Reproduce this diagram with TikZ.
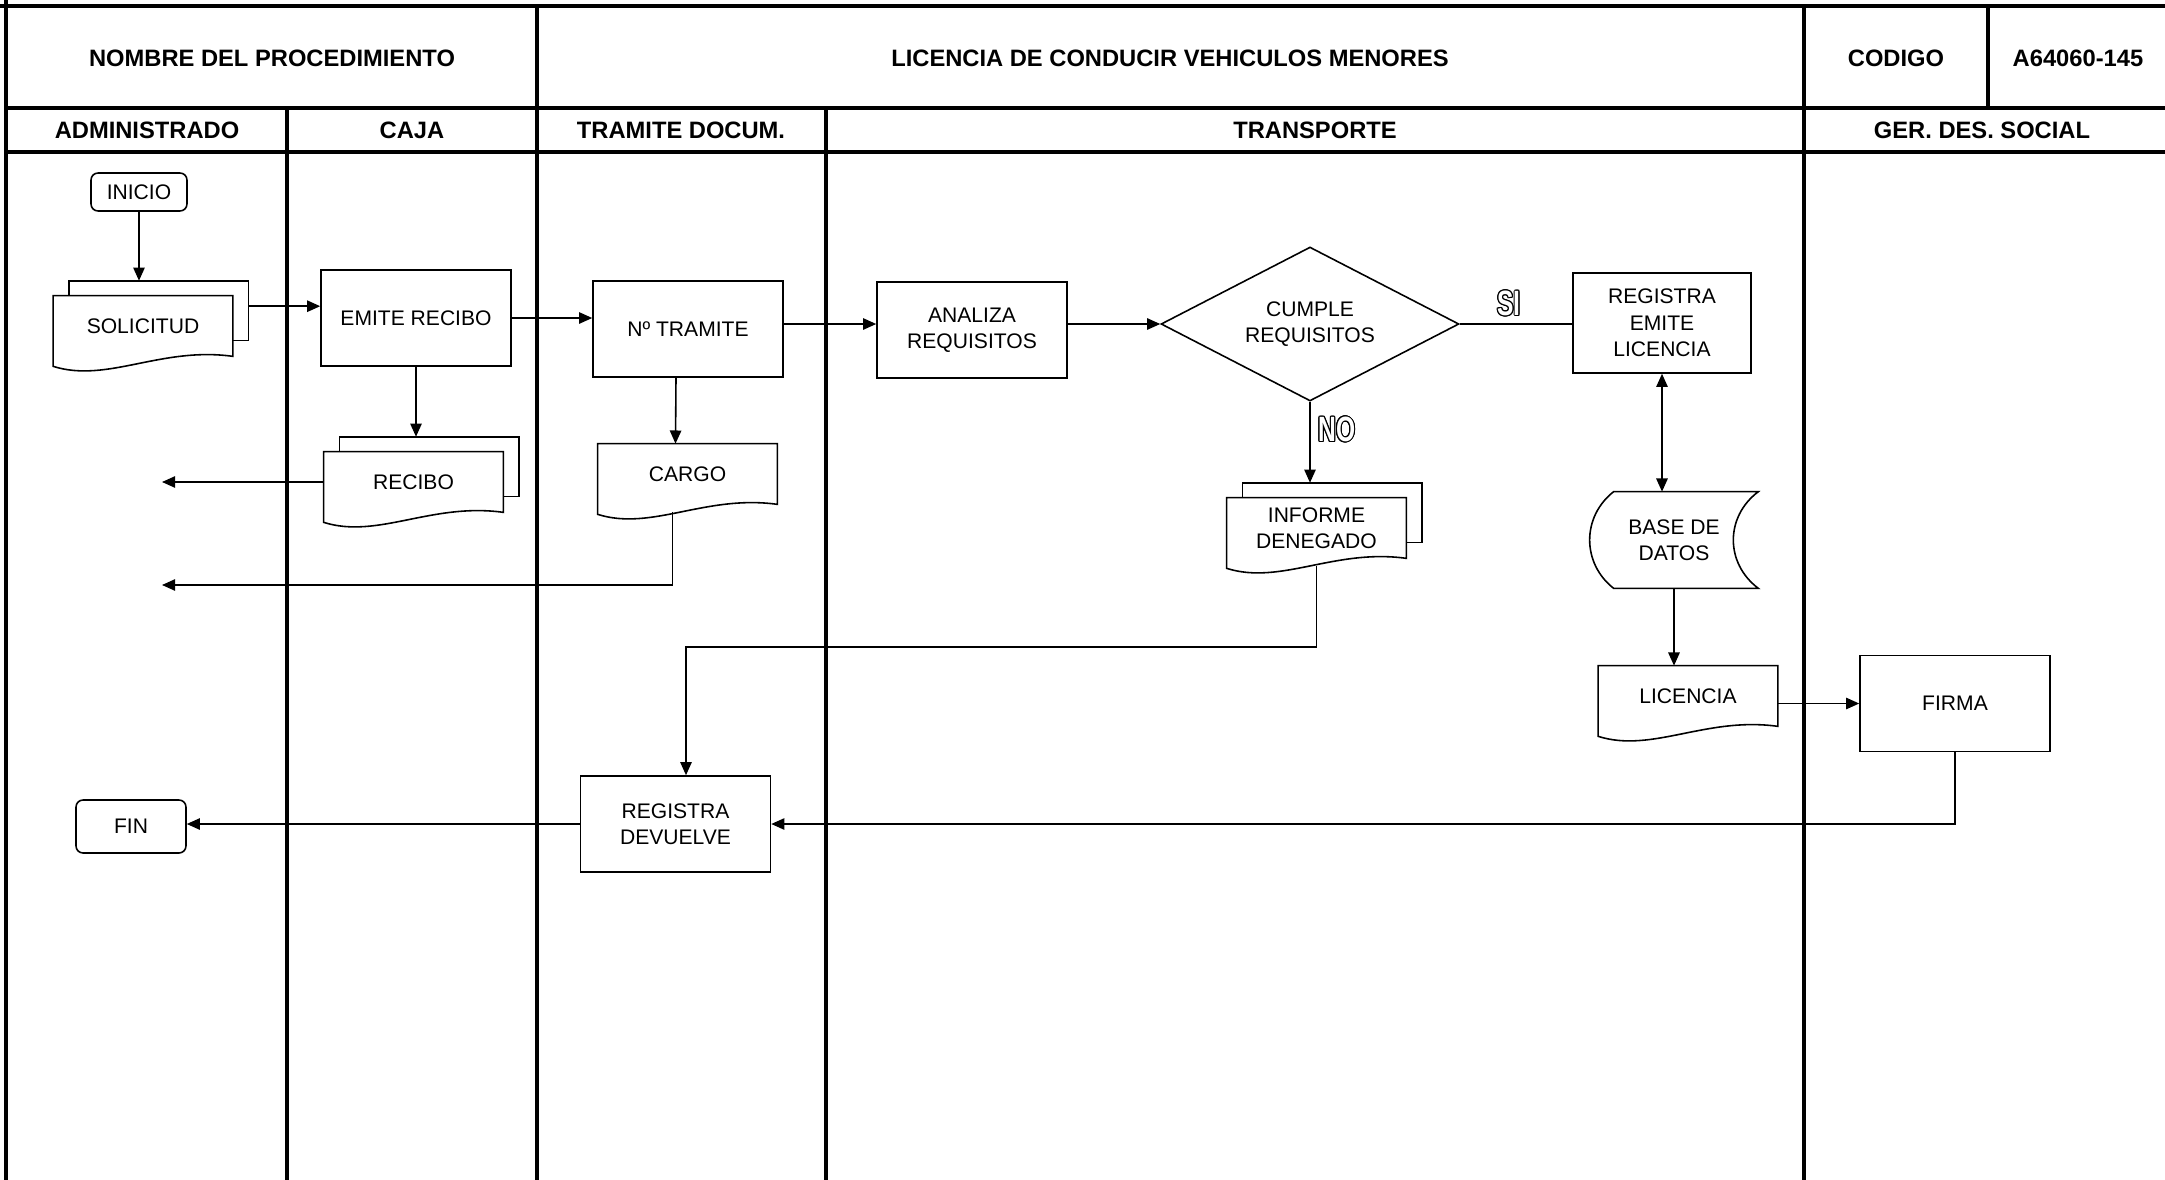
\documentclass[tikz,border=0pt]{standalone}
\usepackage{fontspec}
\setmainfont{Liberation Sans}
\usepackage{graphicx}
\usepackage{contour}
\usepackage{tikz}
\usetikzlibrary{arrows.meta,shapes.geometric,calc}
\contourlength{0.7pt}

\tikzset{
  >={Triangle[length=7.5pt,width=6.5pt]},
  txt/.style={font=\fontsize{12}{15}\selectfont, align=center},
  shapeline/.style={line width=0.9pt},
  proc/.style={txt, draw, shapeline, minimum width=3.8cm, minimum height=1.92cm, inner sep=2pt},
  term/.style={txt, draw, shapeline, rounded corners=4pt, inner sep=2pt},
  doc/.style={txt, minimum width=3.58cm, minimum height=1.2cm, inner sep=2pt},
  dec/.style={txt, diamond, draw, shapeline, aspect=2, minimum width=5.96cm, minimum height=3.08cm, inner sep=0pt},
  store/.style={txt, minimum width=3.36cm, minimum height=1.92cm, inner sep=2pt},
  flow/.style={shapeline},
  lane/.style={line width=2.6pt},
  head/.style={font=\bfseries\fontsize{13.5}{16}\selectfont},
  answer/.style={font=\bfseries\fontsize{20}{20}\selectfont},
}

% document sheet with wavy bottom, drawn round a node
\newcommand{\docframe}[1]{%
  \draw[shapeline] (#1.north west) -- (#1.north east) -- (#1.south east)
    .. controls ($(#1.south west)!0.6!(#1.south east)+(0,5.7pt)$)
    and ($(#1.south west)!0.3!(#1.south east)+(0,-15.4pt)$)
    .. ($(#1.south west)+(0,-5.7pt)$) -- cycle;}
% several sheets
\newcommand{\multidocframe}[1]{%
  \draw[shapeline] ($(#1.north west)+(9pt,0)$) -- ++(0,8.5pt)
    -- ($(#1.north east)+(9pt,8.5pt)$) -- ($(#1.north east)+(9pt,-25.5pt)$)
    -- ($(#1.north east)+(0,-25.5pt)$);
  \docframe{#1}}
% stored data
\newcommand{\storeframe}[1]{%
  \draw[shapeline] ($(#1.north west)+(0.48cm,0)$) -- (#1.north east)
    .. controls ($(#1.north east)+(-0.667cm,-0.5cm)$) and ($(#1.south east)+(-0.667cm,0.5cm)$) .. (#1.south east)
    -- ($(#1.south west)+(0.48cm,0)$)
    .. controls ($(#1.south west)+(-0.16cm,0.5cm)$) and ($(#1.north west)+(-0.16cm,-0.5cm)$) .. cycle;}
% hollow letters for the answers
\newcommand{\hollowtext}[1]{\scalebox{0.7}[1]{\color{white}\contour{black}{#1}}}

\begin{document}
\begin{tikzpicture}[x=0.02cm, y=-0.02cm]
  \useasboundingbox (0,0) rectangle (2165,1180);

  % table and lanes
  \draw[lane] (0,6) -- (2165,6);
  \draw[lane] (6,0) -- (6,1180);
  \foreach \y in {108,152}
    \draw[lane] (6,\y) -- (2165,\y);
  \foreach \x in {537,1804}
    \draw[lane] (\x,6) -- (\x,1180);
  \foreach \x in {287,826}
    \draw[lane] (\x,108) -- (\x,1180);
  \draw[lane] (1988,6) -- (1988,108);

  % header
  \node[head] (hdname) at (272,58) {NOMBRE DEL PROCEDIMIENTO};
  \node[head] (hdtitle) at (1170,58) {LICENCIA DE CONDUCIR VEHICULOS MENORES};
  \node[head] (hdcode) at (1896,58) {CODIGO};
  \node[head] (hdcodeval) at (2078,58) {A64060-145};
  \foreach \colx/\colname/\coltext in {147/admin/ADMINISTRADO, 412/caja/CAJA,
      681/tramdoc/TRAMITE DOCUM., 1315/transp/TRANSPORTE, 1982/gerdes/GER. DES. SOCIAL}
    \node[head] (\colname) at (\colx,130) {\coltext};

  % steps
  \node[term, minimum width=1.92cm, minimum height=0.76cm] (inicio) at (139,192) {INICIO};
  \node[doc] (solicitud) at (143,326) {SOLICITUD};
  \node[proc] (emite) at (416,318) {EMITE RECIBO};
  \node[doc] (recibo) at (413.5,482) {RECIBO};
  \node[proc] (tramite) at (688,329) {Nº TRAMITE};
  \node[doc] (cargo) at (687.5,474) {CARGO};
  \node[proc] (analiza) at (972,330) {ANALIZA\\REQUISITOS};
  \node[dec] (cumple) at (1310,324) {CUMPLE\\REQUISITOS};
  \node[proc, minimum width=3.56cm, minimum height=2cm] (emitelic) at (1662,323) {REGISTRA\\EMITE\\LICENCIA};
  \node[doc] (informe) at (1316.5,528) {INFORME\\DENEGADO};
  \node[store] (base) at (1674,540) {BASE DE\\DATOS};
  \node[doc] (licencia) at (1688,696) {LICENCIA};
  \node[proc] (firma) at (1955,703.5) {FIRMA};
  \node[proc] (devuelve) at (675.5,824) {REGISTRA\\DEVUELVE};
  \node[term, minimum width=2.2cm, minimum height=1.06cm] (fin) at (131,826.5) {FIN};

  \multidocframe{solicitud}
  \multidocframe{recibo}
  \docframe{cargo}
  \multidocframe{informe}
  \docframe{licencia}
  \storeframe{base}

  % connectors
  \coordinate (outR) at (162,482);
  \coordinate (outC) at (162,585);
  \coordinate (turn) at (686,647);
  \coordinate (solout) at ([shift={(9pt,-6pt)}]solicitud.north east);

  \draw[flow,->] (inicio.south) -- ($(inicio.south |- solicitud.north)+(0,8.5pt)$);
  \draw[flow,->] (solout) -- (solout -| emite.west);
  \draw[flow,->] (emite.east) -- (emite.east -| tramite.west);
  \draw[flow,->] (emite.south) -- ($(emite.south |- recibo.north)+(0,8.5pt)$);
  \draw[flow,->] (recibo.west) -- (outR);
  \draw[flow,->] ([xshift=-0.24cm]tramite.south) -- ([xshift=-0.24cm]cargo.north);
  \draw[flow,->] ([xshift=-0.3cm,yshift=-4.3pt]cargo.south) |- (outC);
  \draw[flow,->] (tramite.east |- cumple) -- (analiza.west |- cumple);
  \draw[flow,->] (analiza.east |- cumple) -- (cumple.west);
  \draw[flow] (cumple.east) -- (cumple.east -| emitelic.west);
  \node[answer] (si) at (1509,304) {\hollowtext{SI}};
  \draw[flow,->] (cumple.south) -- ($(cumple.south |- informe.north)+(0,8.5pt)$);
  \node[answer] (no) at (1337,430) {\hollowtext{NO}};
  \draw[flow,<->] (emitelic.south) -- (emitelic.south |- base.north);
  \draw[flow,->] (base.south) -- (base.south |- licencia.north);
  \draw[flow,->] (firma.west -| licencia.east) -- (firma.west);
  \draw[flow,->] ([yshift=-4.3pt]informe.south) |- (turn) -- (turn |- devuelve.north);
  \draw[flow,->] (firma.south) |- (devuelve.east);
  \draw[flow,->] (devuelve.west) -- (devuelve.west -| fin.east);
\end{tikzpicture}
\end{document}
